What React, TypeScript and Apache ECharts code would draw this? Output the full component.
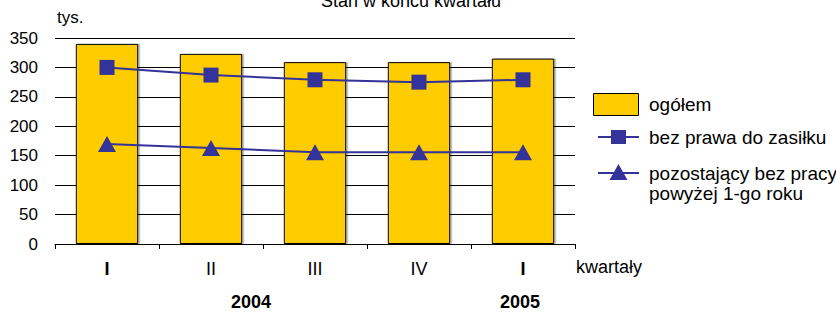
import React, { useEffect, useRef } from "react";
import * as echarts from "echarts";

const quarters = ["I", "II", "III", "IV", "I"];
const years = ["2004", "2004", "2004", "2004", "2005"];
const boldQuarter = [true, false, false, false, true];
const ogolem = [340, 323, 309, 309, 315];
const bezPrawa = [300, 287, 279, 275, 279];
const pozostajacy = [170, 163, 156, 156, 156];
const yearLabels = ["2004", "2005"];
const seriesNames = ["ogółem", "bez prawa do zasiłku", "pozostający bez pracy\npowyżej 1-go roku"];

const FONT = "'Liberation Sans', Arial, sans-serif";
const FS = 17;
const FSX = 18;
const FSL = 19;
const BLUE = "#333399";
const YELLOW = "#FFCC00";

export default function App() {
  const ref = useRef<HTMLDivElement>(null);
  useEffect(() => {
    document.body.style.margin = "0";
    const chart = echarts.init(ref.current!, null, { renderer: "svg" });
    const cats = quarters.map((q, i) => q + " " + years[i]);
    chart.setOption({
      animation: false,
      textStyle: { fontFamily: FONT },
      title: {
        text: "Stan w końcu kwartału",
        left: 316,
        top: -13,
        textStyle: { fontFamily: FONT, fontSize: FSX, fontWeight: "normal", color: "#000" },
      },
      grid: { left: 55, right: 261, top: 38, bottom: 69 },
      xAxis: {
        type: "category",
        data: cats,
        boundaryGap: true,
        axisLine: { lineStyle: { color: "#000", width: 1 } },
        axisTick: { show: true, length: 5, lineStyle: { color: "#000" } },
        axisLabel: {
          margin: 16,
          color: "#000",
          fontSize: FSX,
          fontFamily: FONT,
          formatter: (_v: string, i: number) =>
            boldQuarter[i] ? `{b|${quarters[i]}}` : quarters[i],
          rich: { b: { fontWeight: "bold", fontSize: FSX, fontFamily: FONT, color: "#000" } },
        },
      },
      yAxis: {
        type: "value",
        min: 0,
        max: 350,
        interval: 50,
        name: "tys.",
        nameLocation: "end",
        nameGap: 12,
        nameTextStyle: { align: "left", color: "#000", fontSize: FS, fontFamily: FONT, padding: [0, 0, 0, 2] },
        axisLine: { show: false },
        axisTick: { show: false },
        axisLabel: { margin: 17, color: "#000", fontSize: FS, fontFamily: FONT },
        splitLine: { lineStyle: { color: "#000", width: 1 } },
      },
      series: [
        {
          name: seriesNames[0],
          type: "bar",
          data: ogolem,
          barWidth: "60%",
          itemStyle: {
            color: YELLOW,
            borderColor: "#000",
            borderWidth: 1,
            shadowColor: "rgba(0,0,0,0.25)",
            shadowOffsetX: 2,
            shadowOffsetY: 0,
            shadowBlur: 1,
          },
          z: 2,
        },
        {
          name: seriesNames[1],
          type: "line",
          data: bezPrawa,
          symbol: "rect",
          symbolSize: 15,
          lineStyle: { color: BLUE, width: 2 },
          itemStyle: { color: BLUE },
          z: 3,
        },
        {
          name: seriesNames[2],
          type: "line",
          data: pozostajacy,
          symbol: "triangle",
          symbolSize: [18, 16],
          lineStyle: { color: BLUE, width: 2 },
          itemStyle: { color: BLUE },
          z: 3,
        },
      ],
      graphic: [
        {
          type: "text",
          left: 576,
          top: 258,
          style: { text: "kwartały", fontSize: FSX, fontFamily: FONT, fill: "#000" },
        },
        {
          type: "text",
          x: 251,
          y: 302,
          style: { text: yearLabels[0], fontSize: FSX, fontFamily: FONT, fontWeight: "bold", fill: "#000", align: "center", verticalAlign: "middle" },
        },
        {
          type: "text",
          x: 520,
          y: 302,
          style: { text: yearLabels[1], fontSize: FSX, fontFamily: FONT, fontWeight: "bold", fill: "#000", align: "center", verticalAlign: "middle" },
        },
        // legend
        {
          type: "rect",
          shape: { x: 593.5, y: 93.5, width: 45, height: 22 },
          style: { fill: YELLOW, stroke: "#000", lineWidth: 1 },
        },
        {
          type: "text",
          x: 649,
          y: 104,
          style: { text: seriesNames[0], fontSize: FSL, fontFamily: FONT, fill: "#000", verticalAlign: "middle" },
        },
        {
          type: "line",
          shape: { x1: 598, y1: 137, x2: 639, y2: 137 },
          style: { stroke: BLUE, lineWidth: 2 },
        },
        {
          type: "rect",
          shape: { x: 611, y: 130, width: 15, height: 14 },
          style: { fill: BLUE },
        },
        {
          type: "text",
          x: 649,
          y: 137,
          style: { text: seriesNames[1], fontSize: FSL, fontFamily: FONT, fill: "#000", verticalAlign: "middle" },
        },
        {
          type: "line",
          shape: { x1: 598, y1: 173, x2: 639, y2: 173 },
          style: { stroke: BLUE, lineWidth: 2 },
        },
        {
          type: "polygon",
          shape: { points: [[618.5, 164], [627.5, 180], [609.5, 180]] },
          style: { fill: BLUE },
        },
        {
          type: "text",
          x: 649,
          y: 163,
          style: { text: seriesNames[2], fontSize: FSL, fontFamily: FONT, fill: "#000", lineHeight: 20, verticalAlign: "top" },
        },
      ],
    });
    return () => chart.dispose();
  }, []);
  return <div ref={ref} style={{ width: 836, height: 313 }} />;
}
